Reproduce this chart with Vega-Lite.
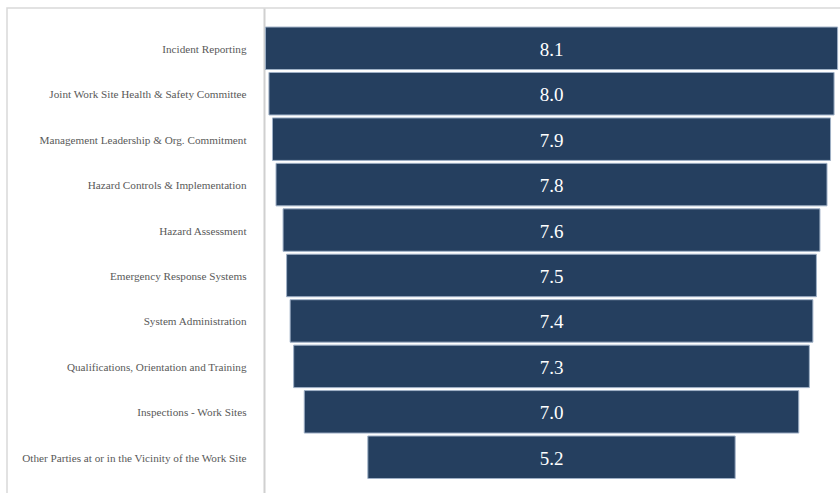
{
  "$schema": "https://vega.github.io/schema/vega-lite/v6.json",
  "autosize": "none",
  "width": 840,
  "height": 490,
  "padding": {"left": 7, "top": 8, "right": 0, "bottom": 0},
  "background": "white",
  "config": {
    "view": {"stroke": "#d9d9d9", "strokeWidth": 1.5},
    "font": "Liberation Serif"
  },
  "data": {
    "values": [
      {"element": "Incident Reporting", "score": 8.1},
      {"element": "Joint Work Site Health & Safety Committee", "score": 8.0},
      {"element": "Management Leadership & Org. Commitment", "score": 7.9},
      {"element": "Hazard Controls & Implementation", "score": 7.8},
      {"element": "Hazard Assessment", "score": 7.6},
      {"element": "Emergency Response Systems", "score": 7.5},
      {"element": "System Administration", "score": 7.4},
      {"element": "Qualifications, Orientation and Training", "score": 7.3},
      {"element": "Inspections - Work Sites", "score": 7.0},
      {"element": "Other Parties at or in the Vicinity of the Work Site", "score": 5.2}
    ]
  },
  "encoding": {
    "y": {
      "field": "element",
      "type": "nominal",
      "sort": null,
      "scale": {"paddingInner": 0.065, "paddingOuter": 0.424, "align": 0.494, "round": false},
      "axis": {
        "title": null,
        "offset": -257,
        "ticks": false,
        "labelPadding": 18,
        "labelOffset": 1.5,
        "labelFont": "Liberation Serif",
        "labelFontSize": 11.2,
        "labelColor": "#595959",
        "domainColor": "#d0d0d0",
        "domainWidth": 2,
        "labelLimit": 400
      }
    }
  },
  "layer": [
    {
      "mark": {"type": "bar", "color": "#253F5F", "stroke": "#9fb0c6", "strokeWidth": 1},
      "encoding": {
        "x": {
          "field": "score",
          "type": "quantitative",
          "stack": "center",
          "scale": {"domain": [-3.658, 8.233], "nice": false, "zero": false},
          "axis": null
        }
      }
    },
    {
      "mark": {"type": "text", "color": "#ffffff", "fontSize": 19, "font": "Liberation Serif", "align": "center", "baseline": "middle", "dy": 1.5},
      "encoding": {
        "x": {"datum": 4.05, "type": "quantitative"},
        "text": {"field": "score", "type": "quantitative", "format": ".1f"}
      }
    }
  ]
}
